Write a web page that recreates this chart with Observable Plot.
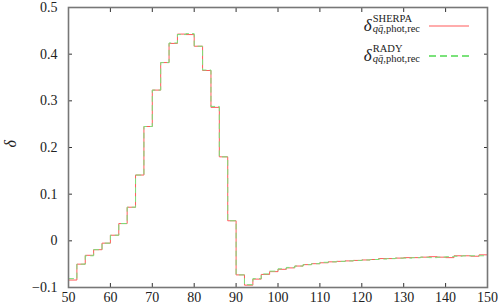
<!DOCTYPE html>
<html><head><meta charset="utf-8">
<script src="https://cdn.jsdelivr.net/npm/d3@7"></script>
<script src="https://cdn.jsdelivr.net/npm/@observablehq/plot@0.6"></script>
<style>
body{margin:0;background:#fff;}
#wrap{position:relative;width:498px;height:307px;font-family:'Liberation Serif','Times New Roman',serif;}
.entry{position:absolute;right:78px;display:flex;align-items:flex-start;color:#222;font-family:'Liberation Serif','Times New Roman',serif;}
.entry .d{font-style:italic;font-size:17px;line-height:17px;margin-top:3px;}
.entry .s{display:flex;flex-direction:column;font-size:10.5px;line-height:10px;margin-left:1px;}
.entry .s i{font-style:italic;}
.sample{position:absolute;left:429px;width:40px;height:4px;overflow:visible;}
</style></head><body><div id="wrap"></div>
<script>
const binEdges = [50,52,54,56,58,60,62,64,66,68,70,72,74,76,78,80,82,84,86,88,90,92,94,96,98,100,102,104,106,108,110,112,114,116,118,120,122,124,126,128,130,132,134,136,138,140,142,144,146,148,150];
const sherpa = [-0.084,-0.050,-0.031,-0.019,-0.005,0.012,0.037,0.072,0.141,0.245,0.323,0.382,0.423,0.443,0.442,0.417,0.365,0.286,0.180,0.043,-0.073,-0.095,-0.082,-0.072,-0.066,-0.061,-0.058,-0.054,-0.051,-0.049,-0.047,-0.045,-0.044,-0.043,-0.042,-0.041,-0.040,-0.038,-0.038,-0.037,-0.036,-0.036,-0.035,-0.034,-0.035,-0.036,-0.032,-0.032,-0.033,-0.030];
const rady = [-0.081,-0.050,-0.032,-0.019,-0.005,0.012,0.037,0.072,0.141,0.245,0.323,0.382,0.424,0.442,0.444,0.417,0.366,0.288,0.180,0.043,-0.073,-0.094,-0.081,-0.071,-0.065,-0.060,-0.057,-0.054,-0.051,-0.049,-0.046,-0.045,-0.044,-0.043,-0.042,-0.041,-0.040,-0.039,-0.038,-0.037,-0.037,-0.036,-0.035,-0.036,-0.035,-0.034,-0.033,-0.032,-0.032,-0.032];
const xTicks = [50,60,70,80,90,100,110,120,130,140,150];
const yTicks = [-0.1,0,0.1,0.2,0.3,0.4,0.5];
const seriesNames = ["SHERPA","RADY"];
const colors = ["#ff5a5a","#7ae27a"];

function steps(vals){
  const pts = vals.map((v,i)=>({x:binEdges[i], y:v}));
  pts.push({x:binEdges[vals.length], y:vals[vals.length-1]});
  return pts;
}
const yFmt = d => d === 0 ? "0" : d3.format(".1f")(d);
const font = 14;
const ff = "Liberation Serif";

const chart = Plot.plot({
  width: 498, height: 307,
  marginLeft: 68, marginRight: 11, marginTop: 7, marginBottom: 20,
  style: {fontFamily: "'Liberation Serif','Times New Roman',serif", background: "#fff", color: "#222"},
  x: {domain: [50,150]},
  y: {domain: [-0.1,0.5]},
  marks: [
    Plot.line(steps(sherpa), {x:"x", y:"y", curve:"step-after", stroke: colors[0], strokeWidth: 1}),
    Plot.line(steps(rady), {x:"x", y:"y", curve:"step-after", stroke: colors[1], strokeWidth: 1, strokeDasharray: "5,4"}),
    Plot.axisX(xTicks, {anchor:"bottom", tickSize:0, tickPadding:5, fontSize:font, fontFamily:ff, tickFormat: d=>String(d), label:null}),
    Plot.axisX(xTicks, {anchor:"bottom", tickSize:-4, tickFormat: ()=>"", label:null, stroke:"#333"}),
    Plot.axisX(xTicks, {anchor:"top", tickSize:-4, tickFormat: ()=>"", label:null, stroke:"#333"}),
    Plot.axisY(yTicks, {anchor:"left", tickSize:0, tickPadding:11, fontSize:font, fontFamily:ff, tickFormat: yFmt, label:null}),
    Plot.axisY(yTicks, {anchor:"left", tickSize:-4, tickFormat: ()=>"", label:null, stroke:"#333"}),
    Plot.axisY(yTicks, {anchor:"right", tickSize:-4, tickFormat: ()=>"", label:null, stroke:"#333"}),
    Plot.frame({stroke:"#777", strokeWidth:1.6}),
    Plot.text(["δ"], {frameAnchor:"left", rotate:-90, dx:-58, fontSize:16, fontFamily:ff, fontStyle:"italic", fill:"#222"})
  ]
});
const wrap = document.getElementById("wrap");
wrap.appendChild(chart);

const subHTML = '<span><i>q</i><i>q̄</i>,phot,rec</span>';
const tops = [14, 44];
seriesNames.forEach((name,i)=>{
  const e = document.createElement("div");
  e.className = "entry";
  e.style.top = tops[i] + "px";
  e.innerHTML = '<span class="d">δ</span><span class="s"><span>' + name + '</span>' + subHTML + '</span>';
  wrap.appendChild(e);
  const ns = "http://www.w3.org/2000/svg";
  const s = document.createElementNS(ns, "svg");
  s.setAttribute("class", "sample");
  s.style.top = (tops[i] + 10) + "px";
  const l = document.createElementNS(ns, "line");
  l.setAttribute("x1", 0); l.setAttribute("x2", 40);
  l.setAttribute("y1", 2); l.setAttribute("y2", 2);
  l.setAttribute("stroke", colors[i]);
  l.setAttribute("stroke-width", i === 0 ? 1.2 : 1.8);
  if (i === 1) l.setAttribute("stroke-dasharray", "7,4");
  s.appendChild(l);
  wrap.appendChild(s);
});
</script></body></html>
